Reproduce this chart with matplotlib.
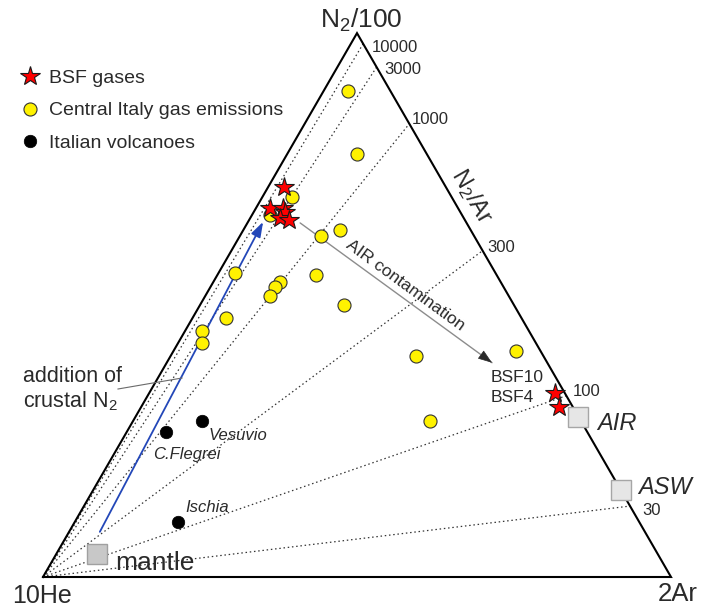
import numpy as np
import matplotlib
matplotlib.use("Agg")
import matplotlib.pyplot as plt

plt.rcParams['font.family'] = ['Liberation Sans', 'DejaVu Sans']
plt.rcParams['mathtext.fontset'] = 'custom'
plt.rcParams['mathtext.rm'] = 'Liberation Sans'
plt.rcParams['mathtext.it'] = 'Liberation Sans:italic'

# ---- compositions in % of (N2/100, 2Ar, 10He) ----
bsf_n2 = [71.7, 67.9, 67.9, 67.1, 66.0, 65.6, 33.8, 31.3]
bsf_ar = [2.5, 2.2, 4.3, 5.0, 4.7, 6.4, 64.6, 66.5]
bsf_he = [25.8, 29.9, 27.8, 27.9, 29.3, 28.0, 1.6, 2.2]

ci_n2 = [89.4, 77.8, 69.9, 66.6, 62.7, 63.8, 55.9, 54.2, 53.3, 51.7,
         55.5, 50.0, 47.6, 45.2, 43.0, 40.6, 41.6, 28.7]
ci_ar = [3.9, 11.1, 4.7, 2.9, 12.9, 15.4, 2.6, 10.6, 10.3, 10.3,
         15.7, 22.9, 5.3, 2.7, 3.8, 39.1, 54.5, 47.3]
ci_he = [6.7, 11.1, 25.4, 30.5, 24.4, 20.8, 41.5, 35.2, 36.4, 38.0,
         28.8, 27.1, 47.1, 52.1, 53.2, 20.3, 3.9, 24.0]

volc_names = ["C.Flegrei", "Vesuvio", "Ischia"]
volc_n2 = [26.7, 28.7, 10.1]
volc_ar = [6.3, 11.0, 16.4]
volc_he = [67.0, 60.3, 73.5]

end_names = ["mantle", "AIR", "ASW"]
end_n2 = [4.2, 29.5, 16.0]
end_ar = [6.5, 70.5, 84.0]
end_he = [89.3, 0.0, 0.0]

# N2/Ar reference ratios (dotted lines from the 10He apex)
ratio_values = [10000, 3000, 1000, 300, 100, 30]

# mixing trends (start, end) as % of (N2/100, 2Ar, 10He)
crustal_n2 = [8.3, 65.3]
crustal_ar = [4.9, 2.4]
crustal_he = [86.8, 32.3]

aircont_n2 = [65.1, 39.4]
aircont_ar = [8.4, 51.8]
aircont_he = [26.5, 8.8]

H = np.sqrt(3) / 2


def tern(n2, ar, he):
    n2 = np.asarray(n2, float)
    ar = np.asarray(ar, float)
    he = np.asarray(he, float)
    tot = n2 + ar + he
    return (ar + 0.5 * n2) / tot, H * n2 / tot


def px(xp, yp):
    # figure-pixel position -> axes data position
    return (xp - 43) / 628, (577 - yp) / 628


TXT = '#2a2a2a'

fig = plt.figure(figsize=(7.13, 6.08), dpi=100)
ax = fig.add_axes([0, 0, 1, 1])
ax.set_xlim(-43 / 628, 670 / 628)
ax.set_ylim(-31 / 628, 577 / 628)
ax.axis('off')

# triangle frame
ax.plot([0, 1, 0.5, 0], [0, 0, H, 0], color='black', lw=1.5, zorder=2,
        solid_joinstyle='miter')

# N2/Ar iso-ratio lines: plotted ratio (N2/100)/(2Ar) = (N2/Ar)/200
label_offsets = {10000: (9, 4), 3000: (8, 2), 1000: (2, -4),
                 300: (5, -3), 100: (6, -4), 30: (12, 4)}
for r in ratio_values:
    k = r / 200.0
    ex, ey = tern(k, 1.0, 0.0)
    ax.plot([0, ex], [0, ey], color='#333333', lw=0.9,
            linestyle=(0, (1.2, 2.2)), zorder=1)
    dx, dy = label_offsets[r]
    ax.annotate(f"{r}", (ex, ey), xytext=(dx * 0.72, -dy * 0.72),
                textcoords='offset points', ha='left', va='center',
                fontsize=12, color=TXT)

# addition of crustal N2 (blue arrow)
cx, cy = tern(crustal_n2, crustal_ar, crustal_he)
ax.annotate('', xy=(cx[1], cy[1]), xytext=(cx[0], cy[0]),
            arrowprops=dict(arrowstyle='-|>,head_length=0.9,head_width=0.3',
                            color='#2347b8', lw=1.3, shrinkA=0, shrinkB=0),
            zorder=3)

# AIR contamination arrow
axx, ayy = tern(aircont_n2, aircont_ar, aircont_he)
ax.annotate('', xy=(axx[1], ayy[1]), xytext=(axx[0], ayy[0]),
            arrowprops=dict(arrowstyle='-', color='#8c8c8c', lw=1.0,
                            shrinkA=0, shrinkB=0), zorder=3)
hx = axx[1] - 0.03 * (axx[1] - axx[0])
hy = ayy[1] - 0.03 * (ayy[1] - ayy[0])
ax.annotate('', xy=(axx[1], ayy[1]), xytext=(hx, hy),
            arrowprops=dict(arrowstyle='-|>,head_length=0.9,head_width=0.32',
                            color='#2a2a2a', lw=0.5, shrinkA=0, shrinkB=0),
            zorder=3)
ang = np.degrees(np.arctan2(ayy[1] - ayy[0], axx[1] - axx[0]))
ax.text(*px(405, 285), "AIR contamination", rotation=ang,
        rotation_mode='anchor', ha='center', va='center', fontsize=12.5,
        color=TXT)

# leader line for the crustal N2 label
lx0, ly0 = px(118, 389)
lx1, ly1 = px(182, 378)
ax.plot([lx0, lx1], [ly0, ly1], color='#6a6a6a', lw=0.8, zorder=3)
ax.text(*px(23, 377), "addition of", ha='left', va='center', fontsize=15.5,
        color=TXT)
ax.text(*px(23, 401), "crustal N$_2$", ha='left', va='center', fontsize=15.5,
        color=TXT)

# end-members
ex_, ey_ = tern(end_n2, end_ar, end_he)
ax.plot(ex_[0], ey_[0], 's', ms=14.4, mfc='#c8c8c8', mec='#a0a0a0', mew=1,
        zorder=4)
ax.plot(ex_[1:], ey_[1:], 's', ms=14.4, mfc='#e6e6e6', mec='#a6a6a6', mew=1,
        linestyle='none', zorder=4)
ax.text(*px(115, 563), "mantle", ha='left', va='center', fontsize=19,
        color=TXT)
ax.text(*px(597, 423), "AIR", ha='left', va='center', fontsize=17,
        style='italic', color=TXT)
ax.text(*px(638, 487), "ASW", ha='left', va='center', fontsize=17,
        style='italic', color=TXT)

# data points
x, y = tern(ci_n2, ci_ar, ci_he)
h_ci, = ax.plot(x, y, 'o', ms=9.4, mfc='#fff200', mec='#333333', mew=0.8,
                linestyle='none', zorder=4, label='Central Italy gas emissions')
x, y = tern(volc_n2, volc_ar, volc_he)
h_v, = ax.plot(x, y, 'o', ms=9.0, mfc='black', mec='black', mew=0.5,
               linestyle='none', zorder=4, label='Italian volcanoes')
volc_lbl = {"C.Flegrei": (153, 455), "Vesuvio": (209, 435), "Ischia": (185, 508)}
for nm in volc_names:
    ax.text(*px(*volc_lbl[nm]), nm, ha='left', va='center', fontsize=12,
            style='italic', color=TXT)
x, y = tern(bsf_n2, bsf_ar, bsf_he)
h_b, = ax.plot(x, y, '*', ms=15, mfc='#ff0000', mec='#1a1a1a', mew=0.8,
               linestyle='none', zorder=5, label='BSF gases')
ax.text(*px(491, 377), "BSF10", ha='left', va='center', fontsize=12.5,
        color=TXT)
ax.text(*px(491, 397), "BSF4", ha='left', va='center', fontsize=12.5,
        color=TXT)

# apex labels
ax.text(*px(361, 20), "N$_2$/100", ha='center', va='center', fontsize=19,
        color=TXT)
ax.text(*px(42, 596), "10He", ha='center', va='center', fontsize=18,
        color=TXT)
ax.text(*px(678, 594), "2Ar", ha='center', va='center', fontsize=18.5,
        color=TXT)
ax.text(*px(472, 196), "N$_2$/Ar", ha='center', va='center', fontsize=17,
        rotation=-60, rotation_mode='anchor', color=TXT)

leg = ax.legend(handles=[h_b, h_ci, h_v], loc='upper left',
                bbox_to_anchor=(20 / 713, 1 - 69 / 608),
                bbox_transform=fig.transFigure, frameon=False, fontsize=14,
                handlelength=1.0, handletextpad=0.48, borderpad=0,
                borderaxespad=0, labelspacing=0.78, numpoints=1)
for t in leg.get_texts():
    t.set_color(TXT)

fig.savefig("out.png", dpi=100)
